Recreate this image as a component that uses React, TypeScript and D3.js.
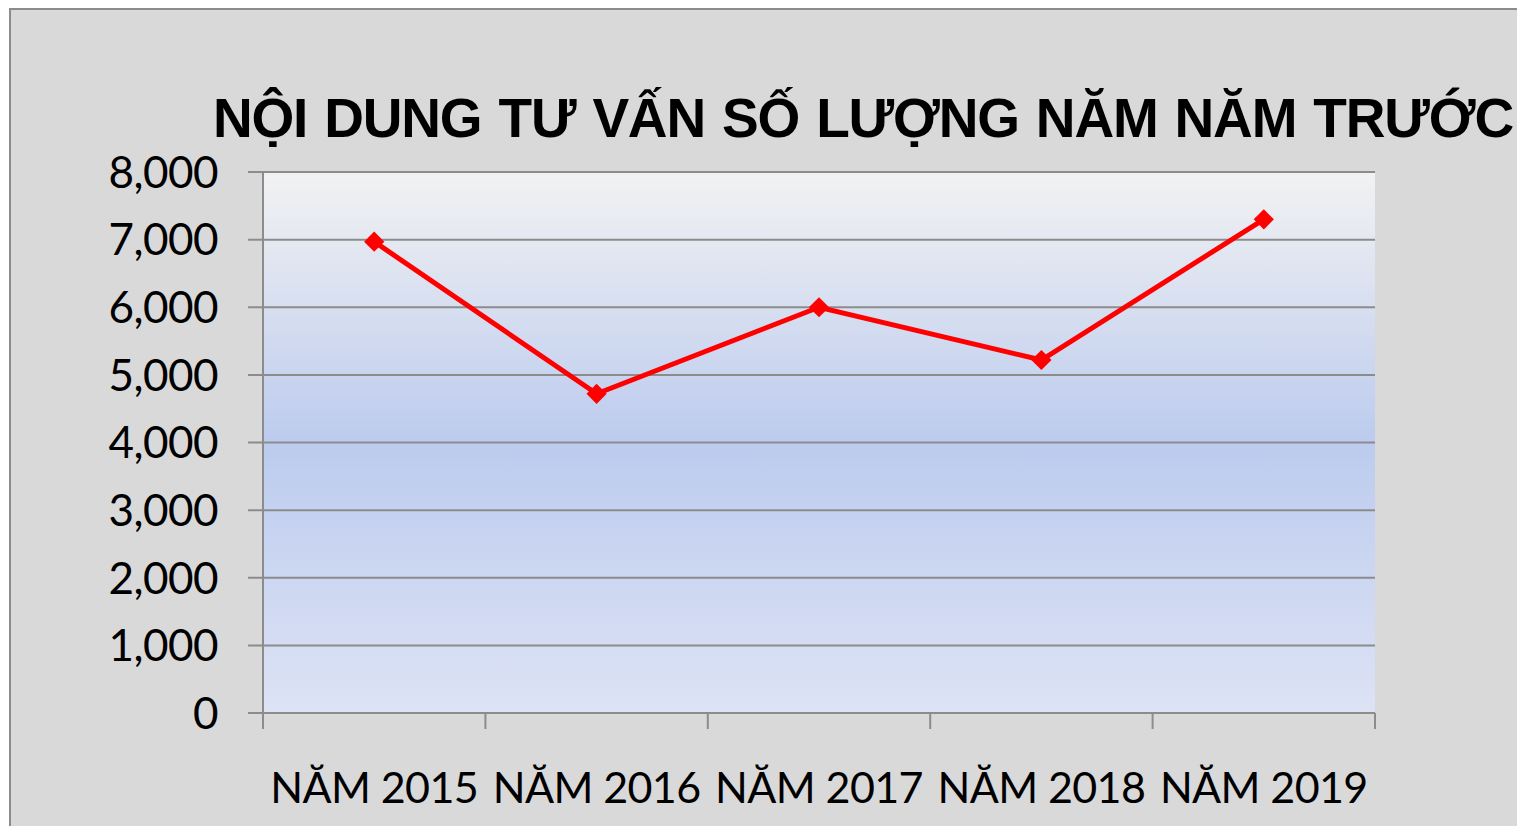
import React from 'react';
import * as d3 from 'd3';

// data
const categories = ['NĂM 2015', 'NĂM 2016', 'NĂM 2017', 'NĂM 2018', 'NĂM 2019'];
const values = [6970, 4720, 6000, 5220, 7300];
const yTicks = [0, 1000, 2000, 3000, 4000, 5000, 6000, 7000, 8000];
const title = 'NỘI DUNG TƯ VẤN SỐ LƯỢNG NĂM NĂM TRƯỚC';

const W = 1517;
const H = 826;
const margin = { top: 172, right: 142, bottom: 113, left: 263 };

export default function App() {
  const width = W - margin.left - margin.right;
  const height = H - margin.top - margin.bottom;

  const x = d3.scaleBand().domain(categories).range([0, width]).padding(0);
  const y = d3.scaleLinear().domain([0, 8000]).range([height, 0]);
  const fmt = d3.format(',');

  const line = d3.line<number>()
    .x((d, i) => (x(categories[i]) as number) + x.bandwidth() / 2)
    .y(d => y(d));

  const diamond = d3.symbol().type(d3.symbolDiamond2).size(260)();
  const labelFont = 'Lato, "Open Sans", sans-serif';

  return (
    <svg width={W} height={H} style={{ position: 'absolute', left: 0, top: 0 }}>
      <defs>
        <linearGradient id="plotFill" x1="0" y1="0" x2="0" y2="1">
          <stop offset="0" stopColor="#f2f2f2" />
          <stop offset="0.5" stopColor="#bccbee" />
          <stop offset="1" stopColor="#dde3f5" />
        </linearGradient>
      </defs>
      <rect x={0} y={0} width={W} height={H} fill="#ffffff" />
      <rect x={10} y={9} width={W + 20} height={H + 20} fill="#d9d9d9" stroke="#8c8c8c" strokeWidth={2} />

      <text x={213} y={137} fontFamily='"Liberation Sans", Arial, sans-serif' fontWeight="bold"
        fontSize={55} letterSpacing={-1.2} wordSpacing={3} fill="#000">{title}</text>

      <g transform={`translate(${margin.left},${margin.top})`}>
        <rect x={0} y={0} width={width} height={height} fill="url(#plotFill)" />
        {yTicks.map(t => (
          <g key={t}>
            <line x1={-15} x2={width} y1={y(t)} y2={y(t)} stroke="#8c8c8c" strokeWidth={2} />
            <text x={-45} y={y(t)} dy="0.36em" textAnchor="end" fontFamily={labelFont}
              fontSize={44} letterSpacing={-0.5} fill="#000">{fmt(t)}</text>
          </g>
        ))}
        <line x1={0} x2={0} y1={0} y2={height} stroke="#8c8c8c" strokeWidth={2} />
        {categories.concat(['end']).map((c, i) => {
          const xx = i < categories.length ? (x(c) as number) : width;
          return <line key={c} x1={xx} x2={xx} y1={height} y2={height + 16} stroke="#8c8c8c" strokeWidth={2} />;
        })}
        {categories.map(c => (
          <text key={c} x={(x(c) as number) + x.bandwidth() / 2} y={height + 90} textAnchor="middle"
            fontFamily={labelFont} fontSize={43} letterSpacing={-0.6} fill="#000">{c}</text>
        ))}
        <path d={line(values) || ''} fill="none" stroke="#ff0000" strokeWidth={5} />
        {values.map((v, i) => (
          <path key={i} d={diamond || ''} fill="#ff0000"
            transform={`translate(${(x(categories[i]) as number) + x.bandwidth() / 2},${y(v)})`} />
        ))}
      </g>
    </svg>
  );
}
